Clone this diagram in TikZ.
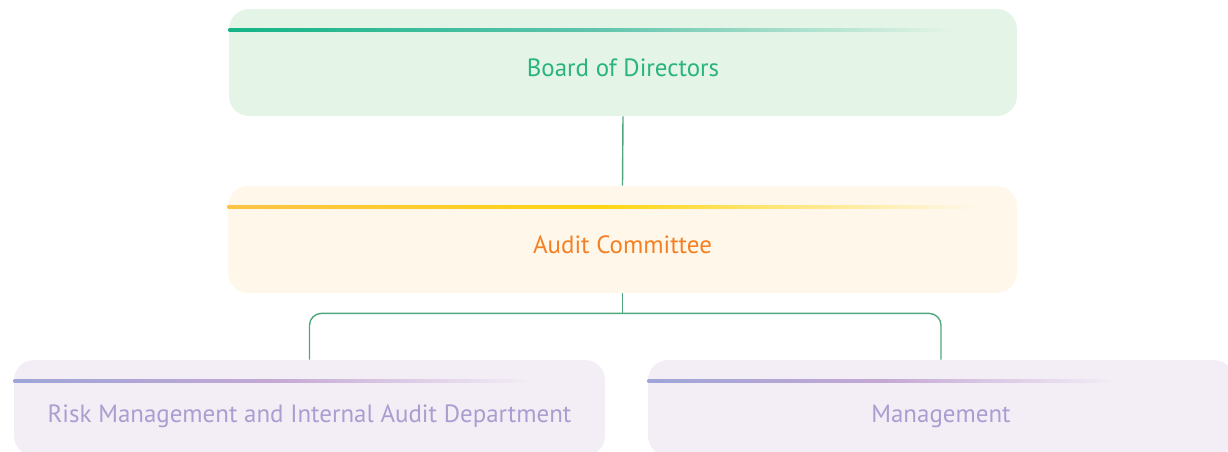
\documentclass[tikz,border=0pt]{standalone}
\usepackage{fontspec}
\setmainfont{PT Sans}
\usetikzlibrary{positioning, calc}
\definecolor{boardfill}{RGB}{228,244,230}
\definecolor{boardbar}{RGB}{20,180,135}
\definecolor{boardbarmid}{RGB}{95,196,172}
\definecolor{boardtxt}{RGB}{40,180,125}
\definecolor{auditfill}{RGB}{254,247,234}
\definecolor{auditbar}{RGB}{252,195,70}
\definecolor{auditbarmid}{RGB}{255,214,20}
\definecolor{audittxt}{RGB}{245,128,35}
\definecolor{deptfill}{RGB}{243,238,246}
\definecolor{deptbar}{RGB}{158,165,215}
\definecolor{deptbarmid}{RGB}{196,168,212}
\definecolor{depttxt}{RGB}{168,158,208}
\definecolor{linkgreen}{RGB}{80,168,125}
\tikzset{
  orgbox/.style={rectangle, rounded corners=0.4cm, inner sep=0pt},
  boardbox/.style={orgbox, fill=boardfill, minimum width=15.76cm, minimum height=2.14cm},
  auditbox/.style={orgbox, fill=auditfill, minimum width=15.78cm, minimum height=2.14cm},
  deptbox/.style={orgbox, fill=deptfill, minimum height=1.92cm},
  orgtext/.style={font=\fontsize{14.2}{17}\selectfont, text height=0.7em,
    text depth=0.2em, inner sep=0pt},
  link/.style={draw=linkgreen, line width=0.8pt, rounded corners=0.24cm}
}
\begin{document}
\begin{tikzpicture}[x=0.02cm, y=-0.02cm]
  \useasboundingbox (0,0) rectangle (1228,452);
  \clip (0,0) rectangle (1228,452);
  % boxes
  \node[boardbox] (board) at (623,62.5) {};
  \node[auditbox] (audit) at (622.5,239.5) {};
  \node[deptbox, minimum width=11.82cm] (risk) at (309.5,408) {};
  \node[deptbox, minimum width=11.72cm] (mgmt) at (941,408) {};
  % heading stripes, fading out to the right
  \foreach \b/\c/\m/\f/\e in {board/boardbar/boardbarmid/boardfill/0.92,
      audit/auditbar/auditbarmid/auditfill/0.95,
      risk/deptbar/deptbarmid/deptfill/0.88,
      mgmt/deptbar/deptbarmid/deptfill/0.8}
    \shade[left color=\c, right color=\f, middle color=\m]
      ($(\b.north west)+(0,19.5)$) rectangle ($(\b.north west)!\e!(\b.north east)+(0,23)$);
  % labels
  \node[orgtext, text=boardtxt] (boardlabel) at ([yshift=-0.2cm]board.center) {Board of Directors};
  \node[orgtext, text=audittxt] (auditlabel) at ([yshift=-0.2cm]audit.center) {Audit Committee};
  \node[orgtext, text=depttxt] (risklabel) at ([yshift=-0.2cm]risk.center) {Risk Management and Internal Audit Department};
  \node[orgtext, text=depttxt] (mgmtlabel) at ([yshift=-0.2cm]mgmt.center) {Management};
  % connectors
  \coordinate (fork) at ($(audit.south)+(0,20)$);
  \draw[link] (board.south) -- (audit.north);
  \draw[link] (audit.south) -- (fork);
  \draw[link] (risk.north) |- (fork) -| (mgmt.north);
\end{tikzpicture}
\end{document}
